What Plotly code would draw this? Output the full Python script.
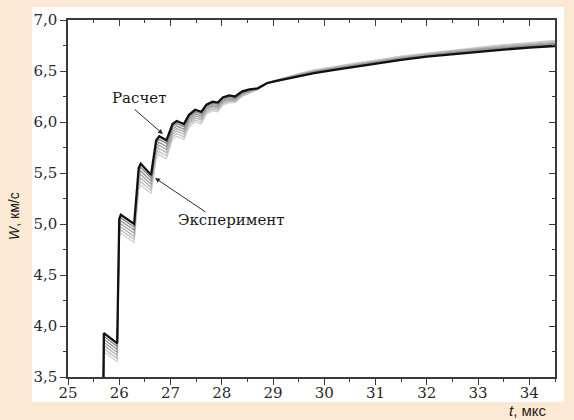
import plotly.graph_objects as go

# Time points, microseconds
T_US = [25.69, 25.70, 25.96, 26.00, 26.03, 26.29, 26.38, 26.42, 26.62, 26.72,
        26.78, 26.92, 27.04, 27.12, 27.26, 27.36, 27.48, 27.60, 27.70, 27.82,
        27.92, 28.02, 28.14, 28.26, 28.40, 28.54, 28.70, 28.88, 29.05, 29.25,
        29.50, 29.80, 30.20, 30.60, 31.00, 31.50, 32.00, 32.50, 33.00, 33.50,
        34.00, 34.50]

# Calculated free-surface velocity, km/s
W_CALC = [3.40, 3.93, 3.83, 5.05, 5.09, 5.00, 5.55, 5.59, 5.48, 5.82,
          5.86, 5.82, 5.98, 6.01, 5.98, 6.07, 6.12, 6.10, 6.17, 6.20,
          6.19, 6.24, 6.26, 6.25, 6.30, 6.32, 6.33, 6.38, 6.40, 6.42,
          6.45, 6.48, 6.51, 6.54, 6.57, 6.61, 6.64, 6.665, 6.69, 6.71,
          6.73, 6.745]

# Measured velocity records, km/s
W_EXP_1 = [3.40, 3.90, 3.80, 5.02, 5.06, 4.97, 5.515, 5.555, 5.45, 5.79,
           5.83, 5.79, 5.955, 5.985, 5.955, 6.05, 6.10, 6.08, 6.155, 6.185,
           6.175, 6.228, 6.248, 6.24, 6.292, 6.314, 6.328, 6.381, 6.402, 6.423,
           6.454, 6.485, 6.516, 6.546, 6.576, 6.616, 6.646, 6.672, 6.697, 6.718,
           6.738, 6.754]
W_EXP_2 = [3.40, 3.87, 3.77, 4.99, 5.03, 4.94, 5.48, 5.52, 5.42, 5.76,
           5.80, 5.76, 5.93, 5.96, 5.93, 6.03, 6.08, 6.06, 6.14, 6.17,
           6.16, 6.216, 6.236, 6.23, 6.284, 6.308, 6.326, 6.382, 6.404, 6.426,
           6.458, 6.49, 6.522, 6.552, 6.582, 6.622, 6.652, 6.679, 6.704, 6.726,
           6.746, 6.763]
W_EXP_3 = [3.40, 3.84, 3.74, 4.96, 5.00, 4.91, 5.445, 5.485, 5.39, 5.73,
           5.77, 5.73, 5.905, 5.935, 5.905, 6.01, 6.06, 6.04, 6.125, 6.155,
           6.145, 6.204, 6.224, 6.22, 6.276, 6.302, 6.324, 6.383, 6.406, 6.429,
           6.462, 6.495, 6.528, 6.558, 6.588, 6.628, 6.658, 6.686, 6.711, 6.734,
           6.754, 6.772]
W_EXP_4 = [3.40, 3.81, 3.71, 4.93, 4.97, 4.88, 5.41, 5.45, 5.36, 5.70,
           5.74, 5.70, 5.88, 5.91, 5.88, 5.99, 6.04, 6.02, 6.11, 6.14,
           6.13, 6.192, 6.212, 6.21, 6.268, 6.296, 6.322, 6.384, 6.408, 6.432,
           6.466, 6.50, 6.534, 6.564, 6.594, 6.634, 6.664, 6.693, 6.718, 6.742,
           6.762, 6.781]
W_EXP_5 = [3.40, 3.78, 3.68, 4.90, 4.94, 4.85, 5.375, 5.415, 5.33, 5.67,
           5.71, 5.67, 5.855, 5.885, 5.855, 5.97, 6.02, 6.00, 6.095, 6.125,
           6.115, 6.18, 6.20, 6.20, 6.26, 6.29, 6.32, 6.385, 6.41, 6.435,
           6.47, 6.505, 6.54, 6.57, 6.60, 6.64, 6.67, 6.70, 6.725, 6.75,
           6.77, 6.79]
W_EXP_6 = [3.40, 3.75, 3.65, 4.87, 4.91, 4.82, 5.34, 5.38, 5.30, 5.64,
           5.68, 5.64, 5.83, 5.86, 5.83, 5.95, 6.00, 5.98, 6.08, 6.11,
           6.10, 6.168, 6.188, 6.19, 6.252, 6.284, 6.318, 6.386, 6.412, 6.438,
           6.474, 6.51, 6.546, 6.576, 6.606, 6.646, 6.676, 6.707, 6.732, 6.758,
           6.778, 6.799]

EXP_SERIES = [W_EXP_6, W_EXP_5, W_EXP_4, W_EXP_3, W_EXP_2, W_EXP_1]
EXP_COLORS = ["#d0d0d0", "#c2c2c2", "#b2b2b2", "#a2a2a2", "#939393", "#848484"]

X_TICKS = [25, 26, 27, 28, 29, 30, 31, 32, 33, 34]
Y_TICKS = [3.5, 4.0, 4.5, 5.0, 5.5, 6.0, 6.5, 7.0]
Y_TICK_TEXT = ["3,5", "4,0", "4,5", "5,0", "5,5", "6,0", "6,5", "7,0"]

SERIF = "DejaVu Serif"
SANS = "Liberation Sans"
AXIS_COLOR = "#3a3a3a"
PEACH = "#fce9d3"

fig = go.Figure()

for w, c in zip(EXP_SERIES, EXP_COLORS):
    fig.add_trace(go.Scatter(x=T_US, y=w, mode="lines",
                             line=dict(color=c, width=1.3),
                             showlegend=False, hoverinfo="skip"))

fig.add_trace(go.Scatter(x=T_US, y=W_CALC, mode="lines",
                         line=dict(color="#111111", width=2.3),
                         showlegend=False))

# carrier for the mirrored top/right axes
fig.add_trace(go.Scatter(x=[None], y=[None], xaxis="x2", yaxis="y2",
                         showlegend=False, hoverinfo="skip"))

tickfont = dict(family=SERIF, size=15, color="#2a2a2a")

fig.update_layout(
    width=574, height=420,
    margin=dict(l=68, r=19, t=20, b=43),
    paper_bgcolor=PEACH,
    plot_bgcolor="white",
    font=dict(family=SERIF),
    xaxis=dict(range=[25, 34.5], tickvals=X_TICKS, ticks="outside", ticklen=6,
               tickwidth=1.2, tickcolor=AXIS_COLOR, showline=True,
               linecolor=AXIS_COLOR, linewidth=1.5, showgrid=False,
               zeroline=False, tickfont=tickfont, ticklabelstandoff=-5,
               minor=dict(tickmode="linear", tick0=25, dtick=0.5,
                          ticks="outside", ticklen=3, tickcolor=AXIS_COLOR)),
    yaxis=dict(range=[3.5, 7.0], tickvals=Y_TICKS, ticktext=Y_TICK_TEXT,
               ticks="outside", ticklen=6, tickwidth=1.2,
               tickcolor=AXIS_COLOR, showline=True, linecolor=AXIS_COLOR,
               linewidth=1.5, showgrid=False, zeroline=False,
               tickfont=tickfont,
               minor=dict(tickmode="linear", tick0=3.5, dtick=0.25,
                          ticks="outside", ticklen=3, tickcolor=AXIS_COLOR)),
    xaxis2=dict(overlaying="x", side="top", anchor="y2", range=[25, 34.5],
                tickvals=X_TICKS, ticks="inside", ticklen=6, tickwidth=1.2,
                tickcolor=AXIS_COLOR, showticklabels=False, showline=True,
                linecolor=AXIS_COLOR, linewidth=1.5, showgrid=False,
                zeroline=False,
                minor=dict(tickmode="linear", tick0=25, dtick=0.5,
                           ticks="inside", ticklen=3, tickcolor=AXIS_COLOR)),
    yaxis2=dict(overlaying="y", side="right", anchor="x2", range=[3.5, 7.0],
                tickvals=Y_TICKS, ticks="inside", ticklen=6, tickwidth=1.2,
                tickcolor=AXIS_COLOR, showticklabels=False, showline=True,
                linecolor=AXIS_COLOR, linewidth=1.5, showgrid=False,
                zeroline=False,
                minor=dict(tickmode="linear", tick0=3.5, dtick=0.25,
                           ticks="inside", ticklen=3, tickcolor=AXIS_COLOR)),
    shapes=[dict(type="rect", xref="paper", yref="paper",
                 x0=-0.0739, x1=1.0185, y0=-0.070, y1=1.0364,
                 fillcolor="white", line=dict(width=0), layer="below")],
    annotations=[
        dict(x=26.385, y=6.235, xref="x", yref="y", text="Расчет",
             showarrow=False, font=dict(family=SERIF, size=15, color="#1a1a1a")),
        dict(x=26.853, y=5.882, ax=26.268, ay=6.137, xref="x", yref="y",
             axref="x", ayref="y", text="", showarrow=True, arrowhead=2,
             arrowsize=1, arrowwidth=1, arrowcolor="#2a2a2a"),
        dict(x=28.19, y=5.04, xref="x", yref="y", text="Эксперимент",
             showarrow=False, font=dict(family=SERIF, size=15, color="#1a1a1a")),
        dict(x=26.697, y=5.451, ax=27.712, ay=5.108, xref="x", yref="y",
             axref="x", ayref="y", text="", showarrow=True, arrowhead=2,
             arrowsize=1, arrowwidth=1, arrowcolor="#2a2a2a"),
        dict(x=-0.111, y=0.451, xref="paper", yref="paper",
             xanchor="center", yanchor="middle",
             text="<i>W</i>, км/с", textangle=-90, showarrow=False,
             font=dict(family=SANS, size=14, color="#222222")),
        dict(x=0.9446, y=-0.095, xref="paper", yref="paper",
             xanchor="center", yanchor="middle",
             text="<i>t</i>, мкс", showarrow=False,
             font=dict(family=SANS, size=15, color="#222222")),
    ],
)

fig.write_html("out.html")
